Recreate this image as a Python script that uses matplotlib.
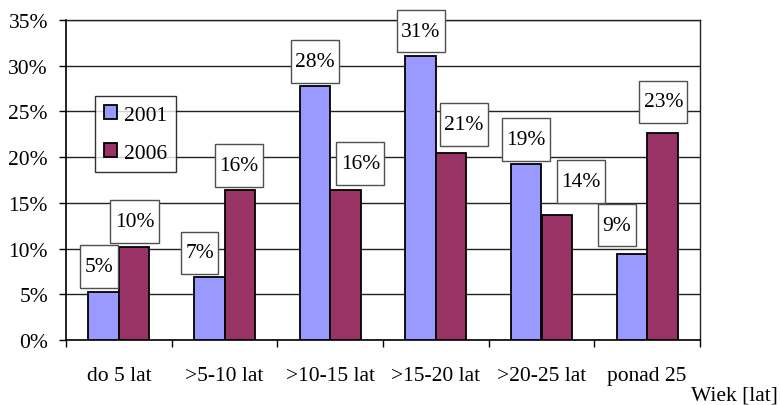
import matplotlib
matplotlib.use("Agg")
import matplotlib.pyplot as plt
import numpy as np
from matplotlib.path import Path

categories = ["do 5 lat", ">5-10 lat", ">10-15 lat", ">15-20 lat", ">20-25 lat", "ponad 25"]
series_names = ["2001", "2006"]
values_2001 = [5.3, 6.9, 27.8, 31.1, 19.3, 9.4]
values_2006 = [10.2, 16.4, 16.4, 20.5, 13.7, 22.6]
labels_2001 = ["5%", "7%", "28%", "31%", "19%", "9%"]
labels_2006 = ["10%", "16%", "16%", "21%", "14%", "23%"]
yticks = [0, 5, 10, 15, 20, 25, 30, 35]
ytick_labels = ["0%", "5%", "10%", "15%", "20%", "25%", "30%", "35%"]
x_title = "Wiek [lat]"

# label box offsets (pixels) relative to bar top centre: (dx, dy)
offsets_2001 = [(-4.5, 25), (-9.5, 24), (0, 24.5), (0, 24.5), (0, 24), (-15, 29)]
offsets_2006 = [(0.5, 25), (-0.5, 24.5), (15, 26.5), (12.5, 28), (24, 33), (1, 31.5)]

colors = ["#9999FF", "#993366"]
FONT = "Liberation Serif"
FS = 15.5

plt.rcParams["font.family"] = [FONT, "DejaVu Serif"]

fig = plt.figure(figsize=(7.81, 4.06), dpi=100)
ax = fig.add_axes([66 / 781, 1 - 341 / 406, (700 - 66) / 781, (341 - 21) / 406])

x = np.arange(len(categories))
w = 0.288
b1 = ax.bar(x - w / 2, values_2001, w, color=colors[0], edgecolor="black", linewidth=1.3, zorder=3, label=series_names[0])
b2 = ax.bar(x + w / 2, values_2006, w, color=colors[1], edgecolor="black", linewidth=1.3, zorder=3, label=series_names[1])


def boxstyle(x0, y0, width, height, mutation_size):
    px = 0.2 * mutation_size
    py = 0.55 * mutation_size
    x0 -= px
    y0 -= py
    x1 = x0 + width + 2 * px
    y1 = y0 + height + 2 * py
    return Path([(x0, y0), (x1, y0), (x1, y1), (x0, y1), (x0, y0)], closed=True)


for bars, labs, offs in [(b1, labels_2001, offsets_2001), (b2, labels_2006, offsets_2006)]:
    for rect, lab, (dx, dy) in zip(bars, labs, offs):
        cx = rect.get_x() + rect.get_width() / 2
        top = rect.get_height()
        ax.annotate(lab, (cx, top), xytext=(dx, dy), textcoords="offset pixels",
                    ha="center", va="center", fontsize=FS, zorder=5,
                    bbox=dict(boxstyle=boxstyle, facecolor="white", edgecolor="#505050", linewidth=1.0))

ax.set_xlim(-0.5, len(categories) - 0.5)
ax.set_ylim(0, 35)
ax.set_yticks(yticks)
ax.set_yticklabels(ytick_labels, fontsize=FS)
ax.yaxis.grid(True, color="#222222", linewidth=1.0, zorder=0)
ax.set_axisbelow(True)

ax.set_xticks(x)
ax.set_xticklabels(categories, fontsize=FS)
ax.set_xticks(np.arange(len(categories) + 1) - 0.5, minor=True)
ax.tick_params(axis="x", which="major", length=0, pad=19)
ax.tick_params(axis="x", which="minor", length=5, width=1, direction="out")
ax.tick_params(axis="y", length=5, width=1, direction="out", pad=8)

for s in ["left", "bottom"]:
    ax.spines[s].set_linewidth(1.2)
    ax.spines[s].set_color("black")
ax.spines["top"].set_color("#222222")
ax.spines["right"].set_color("#222222")
ax.spines["top"].set_linewidth(1.0)
ax.spines["right"].set_linewidth(1.0)

leg = ax.legend(loc="upper left", bbox_to_anchor=((94.7 - 66) / 634, (341 - 97.3) / 320),
                fontsize=FS, frameon=True, fancybox=False, edgecolor="black",
                handlelength=0.62, handleheight=0.62, handletextpad=0.3,
                labelspacing=0.85, borderpad=0.42, borderaxespad=0)
leg.get_frame().set_linewidth(1.0)
leg.set_zorder(6)

fig.text(778 / 781, 1 - 396 / 406, x_title, ha="right", va="center", fontsize=FS)

fig.savefig("out.png", dpi=100)
